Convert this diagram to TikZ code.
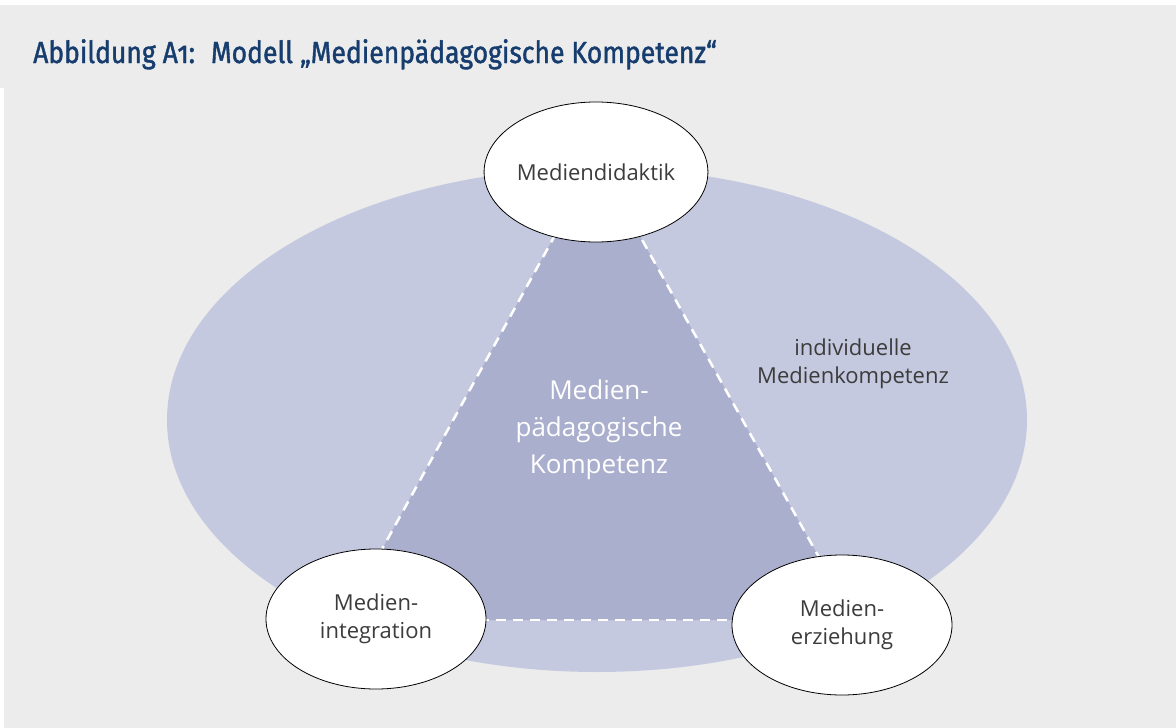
\documentclass[tikz,border=0pt]{standalone}
\usepackage{fontspec}
\setmainfont{Open Sans}
\newfontfamily\titlefont[FakeStretch=0.87,FakeBold=1.3,Numbers=OldStyle]{Fira Sans}
\usetikzlibrary{shapes.geometric}

\definecolor{bggrey}{HTML}{ECECEC}
\definecolor{outerfill}{HTML}{C5C9DF}
\definecolor{innerfill}{HTML}{ABAFCE}
\definecolor{titleblue}{HTML}{173D6F}
\definecolor{labelgrey}{HTML}{3C3C3C}

\tikzstyle{field}=[draw=black,fill=white,ellipse,line width=0.8pt,minimum width=220pt,minimum height=140pt,inner sep=0pt,align=center,text=labelgrey,font=\fontsize{22}{28}\selectfont]
\tikzstyle{dashedge}=[draw,white,line width=2.5pt,dash pattern=on 10pt off 7pt]
\tikzstyle{caption}=[align=center,text=labelgrey,font=\fontsize{22}{28}\selectfont]
\newcommand{\pxunit}{1pt}

\begin{document}
\begin{tikzpicture}[x=\pxunit, y=-\pxunit]
    % Background and title
    \useasboundingbox (0,0) rectangle (1176,728);
    \fill[bggrey] (0,5) rectangle (1176,88);
    \fill[bggrey] (4,88) rectangle (1176,728);
    \node[anchor=base west, inner sep=0pt, text=titleblue, font=\titlefont\fontsize{30.5}{36}\selectfont] (title) at (33,63) {Abbildung A1:\hspace{16pt}Modell „Medienpädagogische Kompetenz“};
    % The big ellipse and the triangle inside it
    \fill[outerfill] (597,420) ellipse [x radius=430, y radius=252];
    \coordinate (apex) at (597,159);
    \coordinate (cornerL) at (343,620);
    \coordinate (cornerR) at (854,620);
    \fill[innerfill] (apex) -- (cornerL) -- (cornerR) -- cycle;
    \foreach \source/\dest in {apex/cornerL, cornerL/cornerR, cornerR/apex}
        \path[dashedge] (\source) -- (\dest);
    % Texts of the two areas
    \node[caption, text=white, font=\fontsize{26}{37}\selectfont] (inner) at (599,430) {Medien-\\pädagogische\\Kompetenz};
    \node[caption] (outer) at (853,364) {individuelle\\Medienkompetenz};
    % Then the three fields on the corners
    \foreach \pos/\name/\txt in {{(596,172)/didaktik/Mediendidaktik}, {(376,619)/integration/Medien-\\integration}, {(842,625)/erziehung/Medien-\\erziehung}}
        \node[field] (\name) at \pos {\txt};
\end{tikzpicture}
\end{document}
